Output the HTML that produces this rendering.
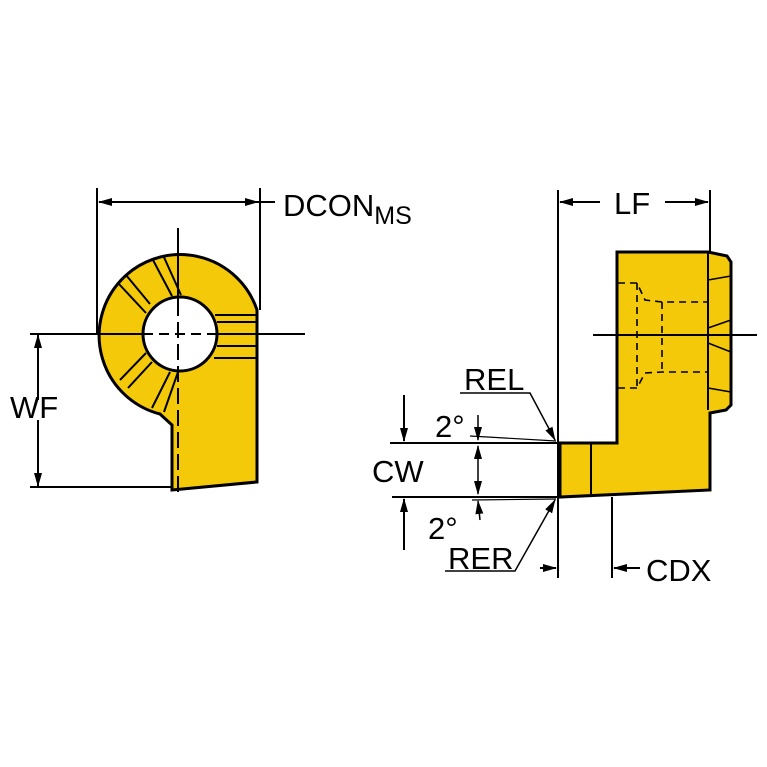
<!DOCTYPE html>
<html><head><style>html,body{margin:0;padding:0;background:#fff}svg{display:block}</style></head><body>
<svg width="767" height="767" viewBox="0 0 767 767" xmlns="http://www.w3.org/2000/svg" font-family="Liberation Sans, sans-serif">
<defs>
<marker id="a" markerWidth="14" markerHeight="8" refX="13" refY="4" orient="auto" markerUnits="userSpaceOnUse"><path d="M0,0 L14,4 L0,8 Z" fill="#000"/></marker>
</defs>
<g stroke="#000" stroke-width="2" fill="none">
<path d="M257,310 A81,81 0 1 0 160,414 L172,425 L172,490 L257,482 Z" fill="#f4c90a" stroke-width="3"/>
<circle cx="180" cy="334" r="37" fill="#fff" stroke-width="3"/>
<g stroke-width="2">
<line x1="153" y1="260" x2="172" y2="296"/><line x1="163" y1="255" x2="181" y2="295"/>
<line x1="118" y1="283" x2="146" y2="313"/><line x1="126" y1="275" x2="150" y2="304"/>
<line x1="120" y1="380" x2="146" y2="353"/><line x1="128" y1="388" x2="152" y2="362"/>
<line x1="152" y1="408" x2="170" y2="372"/><line x1="164" y1="412" x2="178" y2="372"/>
<line x1="215" y1="315" x2="257" y2="315"/><line x1="217" y1="322" x2="257" y2="322"/>
<line x1="217" y1="346" x2="257" y2="346"/><line x1="214" y1="358" x2="257" y2="358"/>
</g>
<line x1="97" y1="188" x2="97" y2="334"/><line x1="260" y1="188" x2="260" y2="310"/>
<line x1="99" y1="202" x2="258" y2="202" marker-end="url(#a)"/><line x1="258" y1="202" x2="99" y2="202" marker-end="url(#a)"/>
<line x1="258" y1="202" x2="275" y2="202"/>
<line x1="30" y1="334" x2="143" y2="334"/><line x1="143" y1="334" x2="217" y2="334" stroke-dasharray="10,6"/><line x1="217" y1="334" x2="305" y2="334"/>
<line x1="178" y1="228" x2="178" y2="300"/><line x1="178" y1="300" x2="178" y2="492" stroke-dasharray="16,6"/>
<line x1="30" y1="487" x2="172" y2="487"/>
<line x1="38" y1="400" x2="38" y2="335" marker-end="url(#a)"/><line x1="38" y1="420" x2="38" y2="486" marker-end="url(#a)"/>
<path d="M617,252 L708,252 L727,256 L731,262 L731,405 L726,410 L710,413 L710,490 L560,497 L560,443 L617,443 Z" fill="#f4c90a" stroke-width="3"/>
<line x1="708" y1="252" x2="708" y2="410"/>
<line x1="591" y1="443" x2="591" y2="494"/>
<path d="M708,280 L731,276 M708,328 L731,320 M708,343 L731,352 M708,388 L731,392" stroke-width="1.5"/>
<g stroke-dasharray="7,5" stroke-width="1.6">
<path d="M618,283 L637,283 L645,300 L662,302 L708,302"/>
<path d="M618,388 L637,388 L645,373 L662,372 L708,372"/>
<line x1="637" y1="283" x2="637" y2="388"/><line x1="662" y1="302" x2="662" y2="372"/>
</g>
<line x1="593" y1="335" x2="757" y2="335"/>
<line x1="558" y1="190" x2="558" y2="578"/><line x1="710" y1="190" x2="710" y2="252"/>
<line x1="600" y1="202" x2="560" y2="202" marker-end="url(#a)"/><line x1="665" y1="202" x2="708" y2="202" marker-end="url(#a)"/>
<line x1="612" y1="497" x2="612" y2="578"/>
<line x1="640" y1="568" x2="614" y2="568" marker-end="url(#a)"/><line x1="540" y1="568" x2="556" y2="568" marker-end="url(#a)"/>
<line x1="390" y1="443" x2="558" y2="443"/><line x1="392" y1="497" x2="558" y2="497"/>
<line x1="404" y1="395" x2="404" y2="441" marker-end="url(#a)"/><line x1="404" y1="550" x2="404" y2="499" marker-end="url(#a)"/>
<line x1="470" y1="436" x2="556" y2="441" stroke-width="1.2"/><line x1="472" y1="500" x2="556" y2="499" stroke-width="1.2"/>
<line x1="478" y1="415" x2="478" y2="440" marker-end="url(#a)" stroke-width="1.5"/><line x1="478" y1="470" x2="478" y2="446" marker-end="url(#a)" stroke-width="1.5"/>
<line x1="478" y1="470" x2="478" y2="494" marker-end="url(#a)" stroke-width="1.5"/><line x1="480" y1="520" x2="478" y2="501" marker-end="url(#a)" stroke-width="1.5"/>
<path d="M460,393 L530,393 L555,440" marker-end="url(#a)" stroke-width="1.5"/>
<path d="M445,571 L515,571 L555,500" marker-end="url(#a)" stroke-width="1.5"/>
</g>
<g fill="#000" font-size="31">
<text x="283" y="216">DCON<tspan font-size="25" dy="8">MS</tspan></text>
<text x="10" y="418">WF</text>
<text x="614" y="214">LF</text>
<text x="646" y="581">CDX</text>
<text x="372" y="482">CW</text>
<text x="435" y="437">2°</text>
<text x="428" y="539">2°</text>
<text x="464" y="390">REL</text>
<text x="448" y="569">RER</text>
</g>
</svg>
</body></html>
